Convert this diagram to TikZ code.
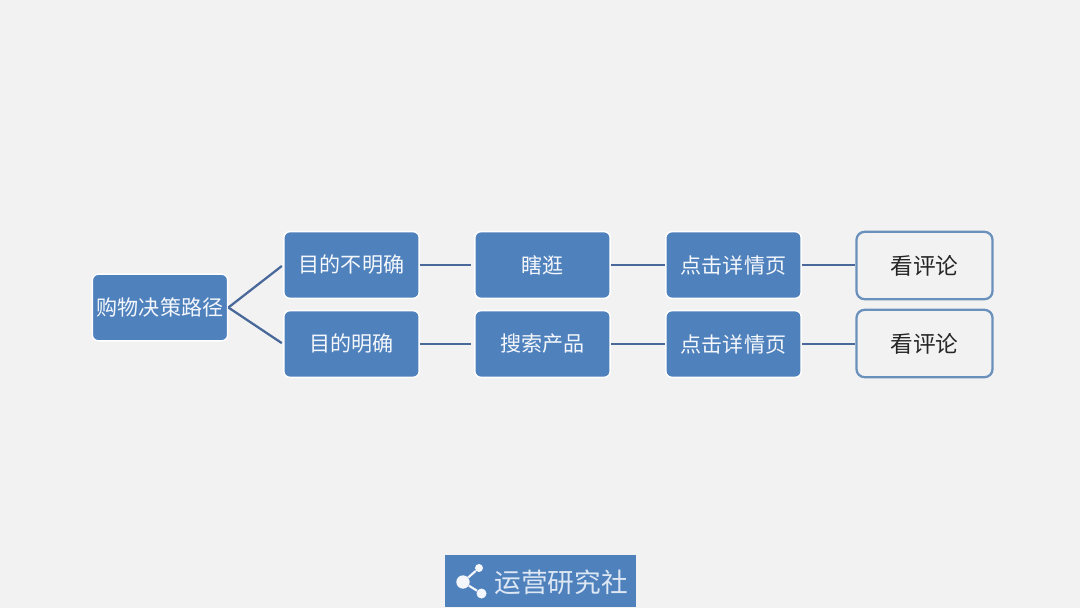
\documentclass[tikz,border=0pt]{standalone}
\usepackage{fontspec}
\setmainfont{Noto Sans CJK SC}
\definecolor{bgc}{HTML}{F2F2F3}
\definecolor{boxblue}{HTML}{4F81BD}
\definecolor{linec}{HTML}{48699A}
\definecolor{txtc}{HTML}{F4F7FB}
\definecolor{logotxt}{HTML}{DDE8F4}
\definecolor{blackc}{HTML}{262626}
\definecolor{edgec}{HTML}{6A90BC}
\begin{document}
\begin{tikzpicture}[x=0.75pt,y=-0.75pt,
  bluebox/.style={draw=white,line width=1.1pt,fill=boxblue,rounded corners=4.5pt,minimum width=101.5pt,minimum height=50pt,inner sep=0pt,text=txtc,font=\fontsize{15.8}{18}\selectfont},
  whitebox/.style={draw=edgec,line width=1.7pt,fill=bgc,rounded corners=6pt,minimum width=102pt,minimum height=50.5pt,inner sep=0pt,text=blackc,font=\fontsize{17}{20}\selectfont},
  link/.style={draw=linec,line width=1.7pt},
  dotn/.style={circle,fill=txtc,draw=none,inner sep=0pt}]
\useasboundingbox (0,0) rectangle (1080,608);
\fill[bgc] (0,0) rectangle (1080,608);
\node[bluebox] (root) at (160,307.5) {购物决策路径};
\node[bluebox] (a1) at (351.5,265) {目的不明确};
\node[bluebox] (a2) at (351.5,344) {目的明确};
\node[bluebox] (b1) at (542.5,265) {瞎逛};
\node[bluebox] (b2) at (542.5,344) {搜索产品};
\node[bluebox] (c1) at (733.5,265) {点击详情页};
\node[bluebox] (c2) at (733.5,344) {点击详情页};
\node[whitebox] (d1) at (924.5,265.5) {\raisebox{1.2pt}{看评论}};
\node[whitebox] (d2) at (924.5,343.5) {\raisebox{0.4pt}{看评论}};
\draw[link,shorten >=1.2pt] (root.east) -- (a1.west);
\draw[link,shorten >=1.2pt] (root.east) -- (a2.west);
\draw[link,shorten >=2pt] (a1) -- (b1);
\draw[link,shorten >=2pt] (a2) -- (b2);
\draw[link] (b1) -- (c1);
\draw[link] (b2) -- (c2);
\draw[link] (c1.east) -- (c1.east -| d1.west);
\draw[link] (c2.east) -- (c2.east -| d2.west);
% logo
\node[fill=boxblue,minimum width=143.25pt,minimum height=39pt,inner sep=0pt] (logo) at (540.5,581) {};
\node[dotn,minimum size=10pt] (s0) at (463,582) {};
\node[dotn,minimum size=6pt] (s1) at (479,568) {};
\node[dotn,minimum size=7.5pt] (s2) at (481.5,593.5) {};
\draw[txtc,line width=1.6pt] (s0) -- (s1);
\draw[txtc,line width=1.6pt] (s0) -- (s2);
\node[text=logotxt,inner sep=0pt,font=\fontsize{20}{24}\selectfont] (lt) at (561,582) {运营研究社};
\end{tikzpicture}
\end{document}
